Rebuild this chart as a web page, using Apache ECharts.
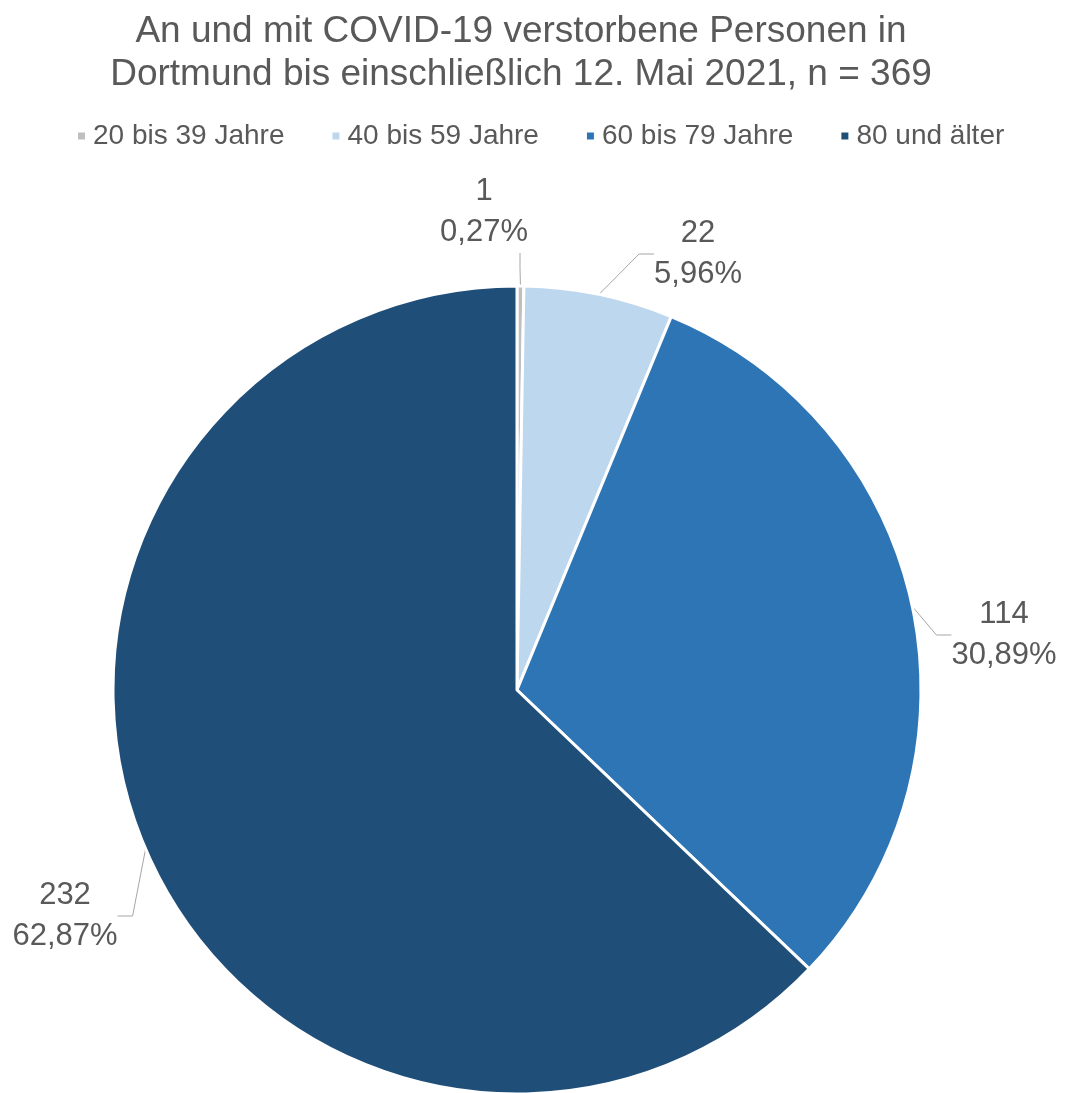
<!DOCTYPE html>
<html>
<head>
<meta charset="utf-8">
<script src="https://cdn.jsdelivr.net/npm/echarts@6/dist/echarts.min.js"></script>
<style>
html,body{margin:0;padding:0;background:#fff;}
#chart{width:1065px;height:1093px;}
</style>
</head>
<body>
<div id="chart"></div>
<script>
var titleText = 'An und mit COVID-19 verstorbene Personen in\nDortmund bis einschließlich 12. Mai 2021, n = 369';
var categories = ['20 bis 39 Jahre', '40 bis 59 Jahre', '60 bis 79 Jahre', '80 und älter'];
var values = [1, 22, 114, 232];
var colors = ['#BFBFBF', '#BDD7EE', '#2E75B6', '#1F4E79'];

var total = values.reduce(function(a, b){ return a + b; }, 0);
var labelPos = [[520, 212], [698, 254], [1004, 635], [65, 916]];
var labelPad = [[0, 72, 0, 0], 0, 0, 0];
var font = "'Liberation Sans', Arial, sans-serif";

var chart = echarts.init(document.getElementById('chart'), null, {renderer: 'canvas'});
chart.setOption({
  animation: false,
  backgroundColor: '#ffffff',
  color: colors,
  title: {
    text: titleText,
    left: 516,
    textAlign: 'center',
    top: 5,
    textStyle: {fontFamily: font, fontSize: 37, fontWeight: 'normal', color: '#595959', lineHeight: 43}
  },
  legend: {
    top: 117,
    left: 71,
    icon: 'rect',
    itemWidth: 9,
    itemHeight: 9,
    itemGap: 46,
    textStyle: {fontFamily: font, fontSize: 28, color: '#595959', padding: [0, 0, 0, 2]},
    data: categories
  },
  series: [{
    type: 'pie',
    center: [517, 690],
    radius: [0, 404],
    startAngle: 90,
    clockwise: true,
    itemStyle: {borderColor: '#ffffff', borderWidth: 3},
    label: {
      show: true,
      position: 'outside',
      overflow: 'none',
      fontFamily: font,
      fontSize: 31,
      lineHeight: 41,
      color: '#595959',
      align: 'center',
      formatter: function(p){
        var pct = (p.value / total * 100).toFixed(2).replace('.', ',');
        return p.value + '\n' + pct + '%';
      }
    },
    labelLine: {show: true, length: 20, length2: 15, lineStyle: {color: '#A6A6A6', width: 1}},
    labelLayout: function(params){
      var pos = labelPos[params.dataIndex];
      return {x: pos[0], y: pos[1], align: 'center', verticalAlign: 'middle'};
    },
    emphasis: {disabled: true},
    data: categories.map(function(c, i){
      return {name: c, value: values[i], label: {padding: labelPad[i]}};
    })
  }]
});
</script>
</body>
</html>
